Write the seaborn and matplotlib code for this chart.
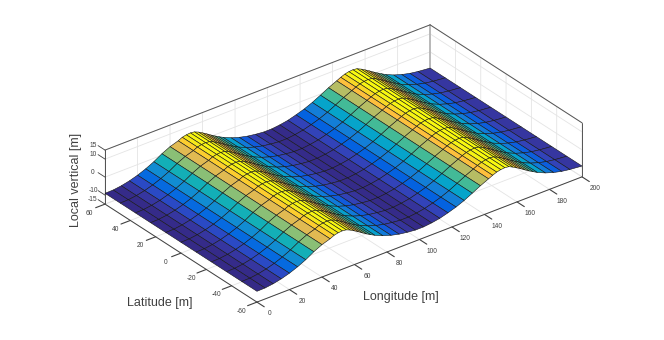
import numpy as np
import seaborn as sns
import matplotlib
matplotlib.use("Agg")
import matplotlib.pyplot as plt
from matplotlib.colors import Normalize
from mpl_toolkits.mplot3d import proj3d

sns.set_style("white")
plt.rcParams['font.family'] = ['Liberation Sans', 'DejaVu Sans']
plt.rcParams['axes.unicode_minus'] = False

# Grid lines bunch up on the ridges
longitude = [0, 5, 10, 15, 20, 25, 30, 35, 40, 45, 47.5, 50, 52.5, 55, 57.5, 60, 62.5, 65, 67.5, 70, 72.5,
             77.5, 82.5, 87.5, 92.5, 97.5,
             102.5, 107.5, 112.5, 117.5, 122.5, 127.5, 132.5, 137.5, 142.5, 145, 147.5, 150, 152.5, 155, 157.5, 160, 162.5, 165, 167.5, 170, 172.5,
             177.5, 182.5, 187.5, 192.5, 200]
latitude = [-60, -48, -36, -24, -12, 0, 12, 24, 36, 48, 60]
height = [-9.0, -8.9, -8.3, -7.3, -5.9, -4.1, -1.9, 0.8, 3.0, 4.5, 5.6, 6.1, 6.3, 6.0, 5.0, 3.7, 2.3, 0.8, -0.6, -1.9, -3.1,
          -5.1, -6.6, -7.7, -8.4, -8.9,
          -8.9, -8.4, -7.6, -6.3, -4.8, -2.9, -0.6, 1.8, 3.9, 5.0, 5.9, 6.4, 6.6, 6.3, 5.2, 3.9, 2.5, 1.0, -0.4, -1.7, -3.0,
          -5.0, -6.5, -7.6, -8.3, -9.0]
x_ticks = [0, 20, 40, 60, 80, 100, 120, 140, 160, 180, 200]
y_ticks = [-60, -40, -20, 0, 20, 40, 60]
z_ticks = [-15, -10, 0, 10, 15]

# parula
parula = sns.blend_palette([
    (0.2081, 0.1663, 0.5292), (0.2123, 0.2138, 0.6270), (0.1959, 0.2645, 0.7279), (0.1253, 0.3242, 0.8303),
    (0.0117, 0.3875, 0.8820), (0.0329, 0.4430, 0.8720), (0.0723, 0.4887, 0.8467), (0.0749, 0.5375, 0.8263),
    (0.0343, 0.5966, 0.8199), (0.0231, 0.6418, 0.7913), (0.0384, 0.6743, 0.7436), (0.1133, 0.7015, 0.6859),
    (0.2178, 0.7250, 0.6193), (0.3482, 0.7424, 0.5473), (0.4871, 0.7491, 0.4840), (0.6099, 0.7473, 0.4337),
    (0.7184, 0.7411, 0.3905), (0.8185, 0.7327, 0.3498), (0.9139, 0.7258, 0.3063), (0.9938, 0.7455, 0.2403),
    (0.9880, 0.8066, 0.1794), (0.9626, 0.8705, 0.1309), (0.9661, 0.9514, 0.0755), (0.9763, 0.9831, 0.0538),
], n_colors=64, as_cmap=True)

X, Y = np.meshgrid(longitude, latitude)
Z = np.tile(height, (len(latitude), 1))
colors = parula(Normalize(min(height), max(height))(Z))

fig = plt.figure(figsize=(6.64, 3.40), dpi=100)
# axes bigger than the box so nothing gets clipped at its edge
ax = fig.add_axes([-18.5 / 664, -185.5 / 340, 705 / 664, 705 / 340], projection='3d', computed_zorder=False)
ax.set_proj_type('ortho')
ax.view_init(elev=29.9, azim=-127.7)
ax.set_box_aspect((410.8, 248.4, 62.3), zoom=2 / 3)
ax.set_xlim(0, 200, view_margin=0)
ax.set_ylim(-60, 60, view_margin=0)
ax.set_zlim(-15, 15, view_margin=0)
ax.patch.set_alpha(0)

dark = '#404040'
edge = '#555555'
for axis, ticks, tick_len in [(ax.xaxis, x_ticks, 0.6), (ax.yaxis, y_ticks, 0.36), (ax.zaxis, z_ticks, 0)]:
    axis.set_ticks(ticks)
    axis.set_ticklabels([])
    axis.set_pane_color((1, 1, 1, 0))
    axis.pane.set_edgecolor((1, 1, 1, 0))
    axis.line.set_color(dark)
    axis.line.set_linewidth(0.7)
    axis._axinfo['grid'].update(color='#e4e4e4', linewidth=0.6)
    axis._axinfo['tick'].update(inward_factor=tick_len, outward_factor=0)
ax.tick_params(color=dark, width=0.6)

# box edges of the back walls
ax.plot([0, 0], [60, 60], [-15, 15], color=edge, lw=0.7, zorder=1)
ax.plot([200, 200], [60, 60], [-15, 15], color='#b0b0b0', lw=1.2, zorder=1)
ax.plot([200, 200], [-60, -60], [-15, 15], color=edge, lw=0.7, zorder=1)
ax.plot([0, 200], [60, 60], [15, 15], color=edge, lw=0.7, zorder=1)
ax.plot([200, 200], [60, -60], [15, 15], color=edge, lw=0.7, zorder=1)

ax.plot_surface(X, Y, Z, facecolors=colors, rstride=1, cstride=1, shade=False,
                edgecolor='#151515', linewidth=0.4, antialiased=True, zorder=2)


# tick labels, placed off the axes the way the original has them
def tick_label(x, y, z, v):
    sx, sy, _ = proj3d.proj_transform(x, y, z, ax.get_proj())
    ax.text2D(sx, sy, str(v), transform=ax.transData, fontsize=4.8, color=dark, ha='center', va='center')


for v in x_ticks:
    tick_label(v, -70, -17, v)
for v in y_ticks:
    tick_label(-9.4, v, -16.7, v)
for v in z_ticks:
    ax.plot([0, 0], [60, 65.5], [v, v], color=dark, lw=0.6, zorder=1)
    tick_label(0, 69.5, v - 1.5, v)

fig.text(401 / 664, 1 - 297 / 340, 'Longitude [m]', fontsize=9, color=dark, ha='center', va='center')
fig.text(160 / 664, 1 - 303 / 340, 'Latitude [m]', fontsize=9, color=dark, ha='center', va='center')
fig.text(76 / 664, 1 - 180 / 340, 'Local vertical [m]', fontsize=9, color=dark, ha='center', va='center', rotation=90)

fig.savefig('out.png', dpi=100)
